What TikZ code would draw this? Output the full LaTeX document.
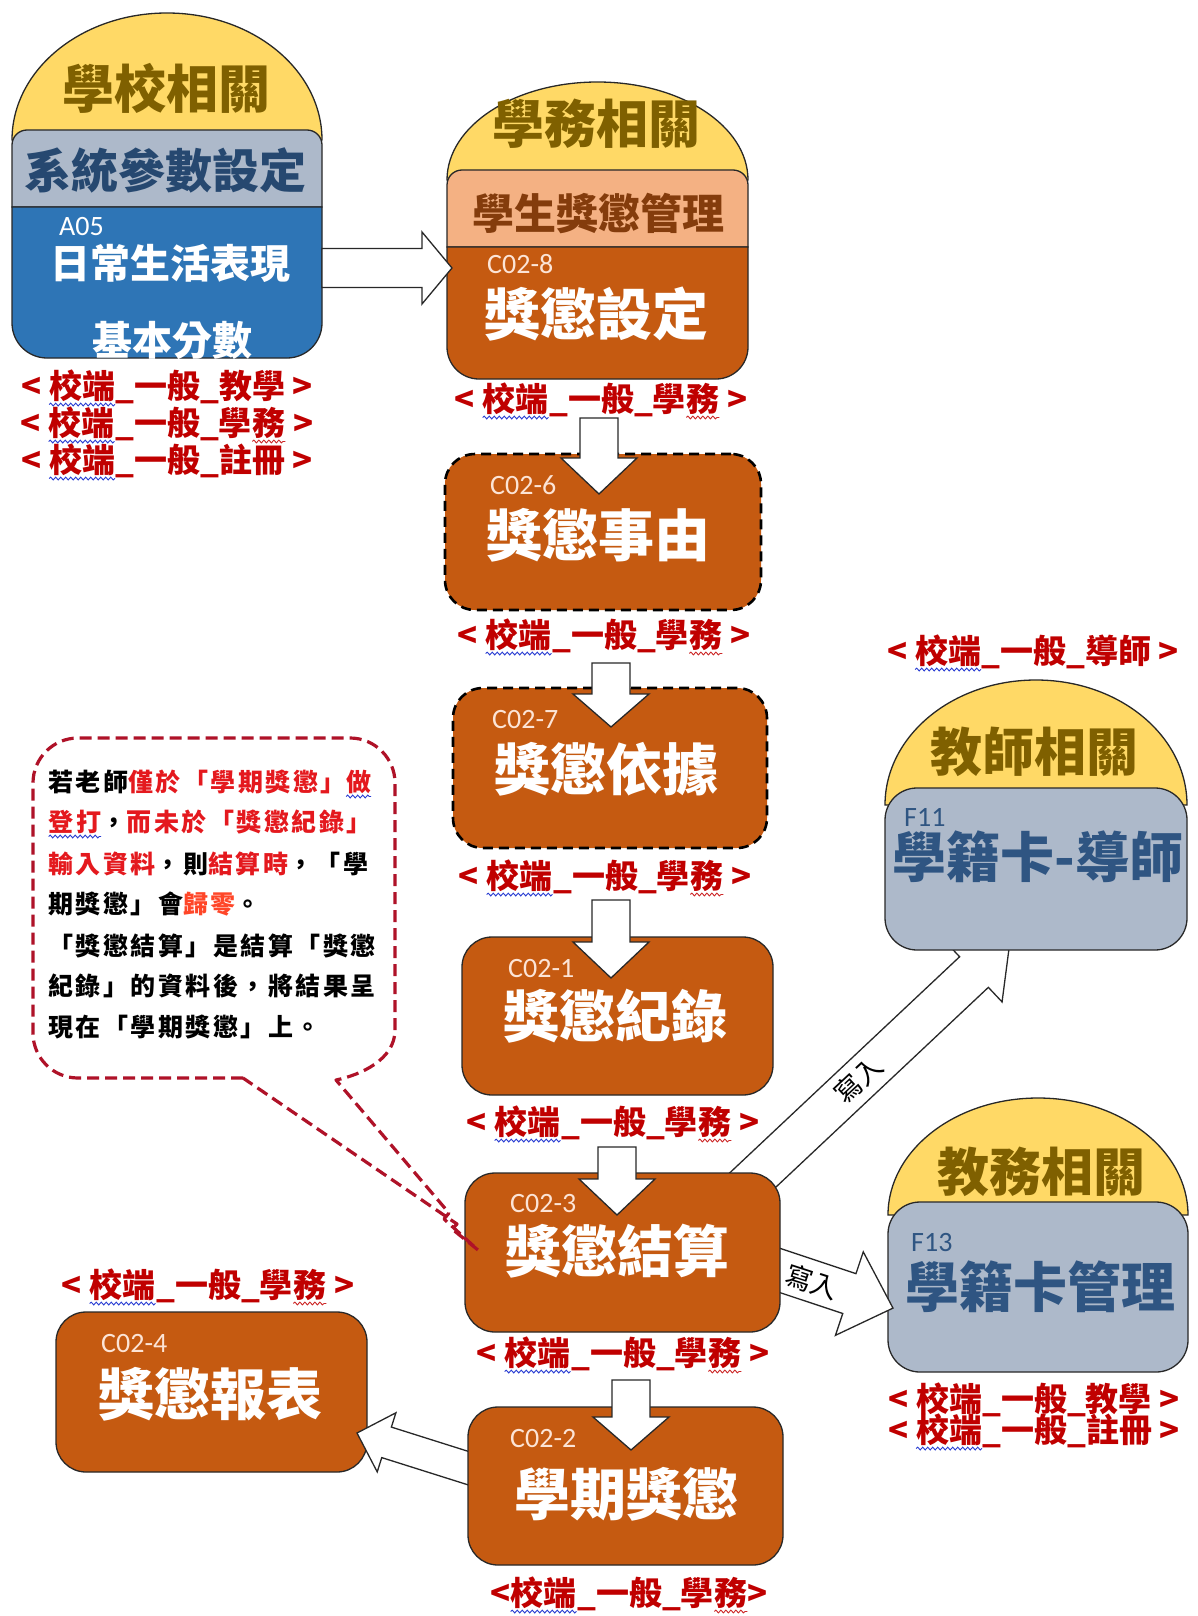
\documentclass[tikz,border=0pt]{standalone}
\usepackage{fontspec}
\setmainfont{Noto Sans CJK TC}
\newfontfamily\codefont{Carlito}
\newfontfamily\notefont{Noto Sans CJK TC}[LetterSpace=10]
\usetikzlibrary{calc,decorations.pathmorphing}

\definecolor{domec}{RGB}{255,217,102}
\definecolor{domeTxt}{RGB}{127,96,0}
\definecolor{sysgray}{RGB}{173,185,202}
\definecolor{sysTxt}{RGB}{38,72,112}
\definecolor{bluec}{RGB}{46,117,182}
\definecolor{peachc}{RGB}{244,177,131}
\definecolor{peachTxt}{RGB}{132,60,12}
\definecolor{brownc}{RGB}{197,90,17}
\definecolor{codeTxt}{RGB}{252,228,214}
\definecolor{lblRed}{RGB}{192,0,0}
\definecolor{fTxt}{RGB}{47,85,130}
\definecolor{calloutRed}{RGB}{175,18,40}
\definecolor{noteRed}{RGB}{228,25,30}
\definecolor{noteRedB}{RGB}{255,70,40}
\definecolor{edgec}{RGB}{40,40,40}
\definecolor{sqBlue}{RGB}{40,60,210}
\definecolor{sqRed}{RGB}{205,40,40}

\newcommand\wv[2]{\tikz[baseline=(wvn.base)]{\node[inner sep=0pt,outer sep=0pt] (wvn) {#2};\draw[draw=#1,line width=0.9pt,decorate,decoration={snake,amplitude=1.4pt,segment length=5pt}] ([yshift=-3pt]wvn.south west) -- ([yshift=-3pt]wvn.south east);}}

\newcommand\blk[5]{%
  \coordinate (bkm) at ($(#2)!#5!(#1)$);
  \draw[blkarrow] ($(#1)!#3!90:(#2)$) -- ($(bkm)!#3!90:(#2)$) -- ($(bkm)!#4!90:(#2)$) -- (#2) -- ($(bkm)!#4!-90:(#2)$) -- ($(bkm)!#3!-90:(#2)$) -- ($(#1)!#3!-90:(#2)$) -- cycle;}

\tikzset{
 ln/.style={draw=edgec, line width=1.3pt},
 blkarrow/.style={draw=edgec, fill=white, line width=1.3pt, line join=miter},
 bbox/.style={rectangle, rounded corners=30pt, fill=brownc, draw=edgec, line width=1.3pt, inner sep=0pt},
 dbox/.style={bbox, draw=black, line width=2.6pt, dash pattern=on 10pt off 6pt},
 codetxt/.style={font=\codefont\fontsize{28}{30}\selectfont, inner sep=0pt, anchor=west, text=codeTxt},
 bigtxt/.style={font=\bfseries\fontsize{56}{60}\selectfont, text=white, inner sep=0pt},
 ttl/.style={font=\bfseries\fontsize{52}{56}\selectfont, text=domeTxt, inner sep=0pt},
 lbl/.style={font=\bfseries\fontsize{33}{36}\selectfont, text=lblRed, inner sep=0pt},
 note/.style={font=\notefont\bfseries\fontsize{25}{28}\selectfont, inner sep=0pt, anchor=west},
 wlab/.style={font=\fontsize{27}{30}\selectfont, inner sep=0pt},
 callout/.style={draw=calloutRed, line width=3.2pt, dash pattern=on 12pt off 6pt, line join=round},
}

\begin{document}
\begin{tikzpicture}[x=1pt,y=-1pt]
\useasboundingbox (0,0) rectangle (1198,1616);
\fill[white] (0,0) rectangle (1198,1616);

% ---------- left group ----------
\draw[ln, fill=domec] (12,140) arc[start angle=180,end angle=0,x radius=155pt,y radius=127pt] -- cycle;
\draw[ln, fill=sysgray] (12,207) -- (12,145) arc[start angle=180,end angle=90,radius=15pt] -- (307,130) arc[start angle=90,end angle=0,radius=15pt] -- (322,207) -- cycle;
\draw[ln, fill=bluec] (12,207) -- (12,323) arc[start angle=180,end angle=270,radius=35pt] -- (287,358) arc[start angle=270,end angle=360,radius=35pt] -- (322,207) -- cycle;
\node[ttl] (tschool) at (166,88) {學校相關};
\node[font=\bfseries\fontsize{47}{50}\selectfont, text=sysTxt, inner sep=0pt] (tsys) at (165,170) {系統參數設定};
\node[codetxt, text=white] (ta05) at (59,227) {A05};
\node[font=\bfseries\fontsize{40}{44}\selectfont, text=white, inner sep=0pt] (tdaily) at (170,263) {日常生活表現};
\node[font=\bfseries\fontsize{40}{44}\selectfont, text=white, inner sep=0pt] (tbase) at (172,340) {基本分數};

% ---------- middle group ----------
\draw[ln, fill=domec] (447,180) arc[start angle=180,end angle=0,x radius=150.5pt,y radius=98pt] -- cycle;
\draw[ln, fill=peachc] (447,247) -- (447,185) arc[start angle=180,end angle=90,radius=15pt] -- (733,170) arc[start angle=90,end angle=0,radius=15pt] -- (748,247) -- cycle;
\draw[ln, fill=brownc] (447,247) -- (447,347) arc[start angle=180,end angle=270,radius=32pt] -- (716,379) arc[start angle=270,end angle=360,radius=32pt] -- (748,247) -- cycle;
\node[ttl] (tstu) at (596,124) {學務相關};
\node[font=\bfseries\fontsize{42}{46}\selectfont, text=peachTxt, inner sep=0pt] (tmgmt) at (598,213) {學生獎懲管理};
\node[codetxt] (tc028) at (487,264) {C02-8};
\node[bigtxt] (t028) at (596,314) {獎懲設定};

% ---------- right group: 教務 ----------
\draw[ln, fill=domec] (888,1215) arc[start angle=180,end angle=0,x radius=150pt,y radius=117pt] -- cycle;
\draw[ln, fill=sysgray, rounded corners=32pt] (888,1202) rectangle (1188,1372);
\node[ttl] (tacad) at (1041,1172) {教務相關};
\node[codetxt, text=fTxt] (tf13) at (911,1242) {F13};
\node[font=\bfseries\fontsize{54}{58}\selectfont, text=fTxt, inner sep=0pt] (tcard) at (1040,1287) {學籍卡管理};

% ---------- diagonal arrows ----------
\coordinate (w2s) at (760,1263.8);
\coordinate (w2e) at (893,1308.1);
\blk{w2s}{w2e}{21pt}{44pt}{46pt}
\coordinate (w1s) at (737.8,1194.1);
\coordinate (w1e) at (1010.4,937.8);
\blk{w1s}{w1e}{21pt}{41pt}{50pt}

% ---------- right group: 教師 ----------
\draw[ln, fill=domec] (885,805) arc[start angle=180,end angle=0,x radius=151pt,y radius=125pt] -- cycle;
\draw[ln, fill=sysgray, rounded corners=32pt] (885,788) rectangle (1187,950);
\node[ttl] (tteach) at (1034,752) {教師相關};
\node[codetxt, text=fTxt] (tf11) at (904,817) {F11};
\node[font=\bfseries\fontsize{54}{58}\selectfont, text=fTxt, inner sep=0pt] (ttutor) at (1038,857) {學籍卡-導師};

% ---------- process boxes ----------
\node[dbox, minimum width=316pt, minimum height=156pt] (c026) at (603,532) {};
\node[dbox, minimum width=314pt, minimum height=160pt] (c027) at (610,768) {};
\node[bbox, minimum width=311pt, minimum height=158pt] (c021) at (617.5,1016) {};
\node[bbox, minimum width=315pt, minimum height=159pt] (c023) at (622.5,1252.5) {};
\node[bbox, minimum width=311pt, minimum height=160pt] (c024) at (211.5,1392) {};
\coordinate (r1s) at (490,1475);
\coordinate (r1e) at (357,1433);
\blk{r1s}{r1e}{16pt}{31pt}{31pt}
\node[bbox, minimum width=315pt, minimum height=158pt] (c022) at (625.5,1486) {};

\node[codetxt] (tc026) at (490,485) {C02-6};
\node[bigtxt] (t026) at (598,535) {獎懲事由};
\node[codetxt] (tc027) at (492,720) {C02-7};
\node[bigtxt] (t027) at (606,769) {獎懲依據};
\node[codetxt] (tc021) at (508,968) {C02-1};
\node[bigtxt] (t021) at (615,1016) {獎懲紀錄};
\node[codetxt] (tc023) at (510,1203) {C02-3};
\node[bigtxt] (t023) at (617,1251) {獎懲結算};
\node[codetxt] (tc022) at (510,1438) {C02-2};
\node[bigtxt] (t022) at (626,1494) {學期獎懲};
\node[codetxt] (tc024) at (101,1343) {C02-4};
\node[bigtxt] (t024) at (210,1394) {獎懲報表};

% ---------- block arrows ----------
\coordinate (a05r) at (322,268);
\coordinate (c028l) at (452,268);
\blk{a05r}{c028l}{19.5pt}{36pt}{30pt}
\coordinate (d1s) at (599,418);  \coordinate (d1e) at (599,494);
\coordinate (d2s) at (611,663);  \coordinate (d2e) at (611,727);
\coordinate (d3s) at (611,900);  \coordinate (d3e) at (611,978);
\coordinate (d4s) at (617,1147); \coordinate (d4e) at (617,1215);
\coordinate (d5s) at (631,1380); \coordinate (d5e) at (631,1450);
\blk{d1s}{d1e}{19pt}{38pt}{36pt}
\blk{d2s}{d2e}{19pt}{38pt}{33pt}
\blk{d3s}{d3e}{19pt}{38pt}{36pt}
\blk{d4s}{d4e}{19pt}{38pt}{36pt}
\blk{d5s}{d5e}{19pt}{38pt}{33pt}

\node[wlab, rotate=43] (wr1) at (858,1080) {寫入};
\node[wlab, rotate=-18] (wr2) at (812,1282) {寫入};

% ---------- red labels ----------
\node[lbl] (l1) at (167,388) {< \wv{sqBlue}{校端}\_一般\_教學 >};
\node[lbl] (l2) at (167,425) {< \wv{sqBlue}{校端}\_一般\_學\wv{sqRed}{務} >};
\node[lbl] (l3) at (167,462) {< \wv{sqBlue}{校端}\_一般\_註冊 >};
\node[lbl] (m0) at (601,401) {< \wv{sqBlue}{校端}\_一般\_學\wv{sqRed}{務} >};
\node[lbl] (m1) at (604,637) {< \wv{sqBlue}{校端}\_一般\_學\wv{sqRed}{務} >};
\node[lbl] (m2) at (605,878) {< \wv{sqBlue}{校端}\_一般\_學\wv{sqRed}{務} >};
\node[lbl] (m3) at (613,1124) {< \wv{sqBlue}{校端}\_一般\_學\wv{sqRed}{務} >};
\node[lbl] (m4) at (623,1355) {< \wv{sqBlue}{校端}\_一般\_學\wv{sqRed}{務} >};
\node[lbl] (m5) at (629,1595) {<\wv{sqBlue}{校端}\_一般\_學\wv{sqRed}{務}>};
\node[lbl] (c4l) at (208,1287) {< \wv{sqBlue}{校端}\_一般\_學\wv{sqRed}{務} >};
\node[lbl] (r1) at (1033,653) {< \wv{sqBlue}{校端}\_一般\_導師 >};
\node[lbl] (r2) at (1034,1400) {< 校端\_一般\_教學 >};
\node[lbl] (r3) at (1034,1432) {< \wv{sqBlue}{校端}\_一般\_註冊 >};

% ---------- callout ----------
\draw[callout] (243,1078) -- (78,1078) arc[start angle=270,end angle=180,radius=45pt] -- (33,783) arc[start angle=180,end angle=90,radius=45pt] -- (350,738) arc[start angle=90,end angle=0,radius=45pt] -- (395,1030) .. controls (395,1060) and (360,1075) .. (336,1080) -- (449,1213) -- (444,1219) -- (478,1250) -- (452,1229) -- (457,1224) -- cycle;
\node[note] (n1) at (48,784) {若老師{\color{noteRed}僅於「學期獎懲」\wv{sqBlue}{做}}};
\node[note] (n2) at (48,824) {{\color{noteRed}\wv{sqBlue}{登打}}，{\color{noteRed}而未於「獎懲紀錄」}};
\node[note] (n3) at (48,864) {{\color{noteRed}輸入資料}，則{\color{noteRed}結算時}，「學};
\node[note] (n4) at (48,904) {期獎懲」會{\color{noteRedB}歸零}。};
\node[note] (n5) at (48,946) {「獎懲結算」是結算「獎懲};
\node[note] (n6) at (48,986) {紀錄」的資料後，將結果呈};
\node[note] (n7) at (48,1027) {現在「學期獎懲」上。};
\end{tikzpicture}
\end{document}
